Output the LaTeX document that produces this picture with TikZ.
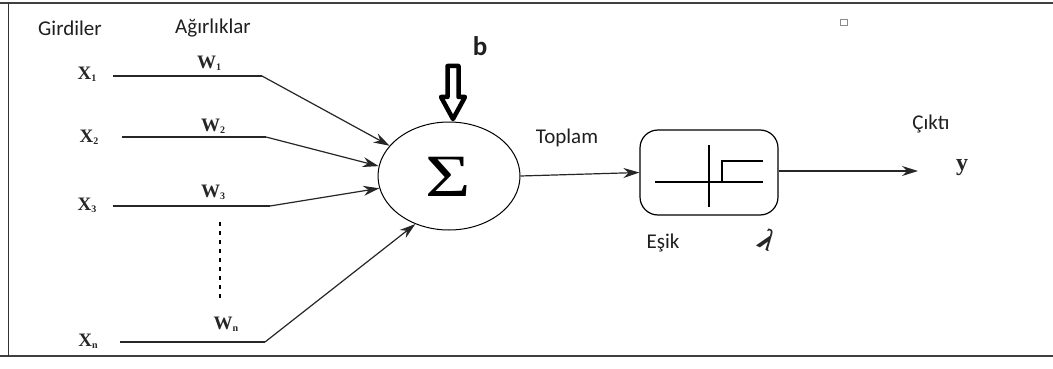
\documentclass[tikz,border=0pt]{standalone}
\usepackage{fontspec}
\setmainfont{Liberation Serif}
\newfontfamily\calibrifont{Carlito}
\usetikzlibrary{arrows.meta,shapes.geometric}
\newcommand{\sbs}[1]{\raisebox{-0.25ex}{\fontsize{10}{10}\selectfont #1}}
\begin{document}
\begin{tikzpicture}[x=1pt,y=-1pt,
  lbl/.style={font=\calibrifont\fontsize{21}{21}\selectfont, text=black!88},
  xin/.style={font=\bfseries\fontsize{19}{19}\selectfont, inner sep=1pt, text=black!85},
  wire/.style={line width=1.2pt, black!85},
  arr/.style={wire, -{Stealth[length=16pt,width=10pt]}}
]
\useasboundingbox (0,0) rectangle (1053,369);
\fill[white] (0,0) rectangle (1053,369);
% frame
\draw[line width=2pt, black!75] (0,3.5) -- (1053,3.5);
\draw[line width=2pt, black!75] (0,355.5) -- (1053,355.5);
\draw[line width=1.2pt, black!80] (8.5,3.5) -- (8.5,355.5);
% headings
\node[lbl] (gird) at (70,28) {Girdiler};
\node[lbl] (agir) at (213,28) {Ağırlıklar};
% inputs
\node[xin] (x1) at (87,74) {X\sbs{1}};
\node[xin] (x2) at (89,137) {X\sbs{2}};
\node[xin] (x3) at (87,205) {X\sbs{3}};
\node[xin] (xn) at (88,341) {X\sbs{n}};
\node[xin] (w1) at (209,63) {W\sbs{1}};
\node[xin] (w2) at (213,126) {W\sbs{2}};
\node[xin] (w3) at (213,192) {W\sbs{3}};
\node[xin] (wn) at (226,324) {W\sbs{n}};
% summation
\node[draw, ellipse, line width=1pt, minimum width=142pt, minimum height=108pt, inner sep=0pt] (sum) at (449,176) {};
\node[font=\fontsize{60}{60}\selectfont, inner sep=0pt] (sig) at (448,177) {\scalebox{1.3}[1]{Σ}};
% bends
\coordinate (b1) at (262,76);
\coordinate (b2) at (266,137);
\coordinate (b3) at (270,206);
\coordinate (bn) at (265,342);
\coordinate (s1) at (113,76);
\coordinate (s2) at (122,137);
\coordinate (s3) at (113,206);
\coordinate (sn) at (120,342);
\draw[wire] (s1) -- (b1);
\draw[arr] (b1) -- (sum.153);
\draw[wire] (s2) -- (b2);
\draw[arr] (b2) -- (sum.172);
\draw[wire] (s3) -- (b3);
\draw[arr] (b3) -- (sum.190);
\draw[wire] (sn) -- (bn);
\draw[arr] (bn) -- (sum.235);
% dots
\coordinate (d1) at (220,222);
\coordinate (d2) at (220,300);
\draw[line width=1.4pt, dash pattern=on 4pt off 5pt] (d1) -- (d2);
% bias
\node[font=\calibrifont\bfseries\fontsize{27}{27}\selectfont, text=black!88] (b) at (480,46) {b};
\draw[line width=4.5pt, fill=white, line join=round]
  (447.5,66) -- (458.5,66) -- (458.5,97) -- (465,97) -- (453,119) -- (441,97) -- (447.5,97) -- cycle;
% threshold box
\node[draw, rounded corners=18pt, line width=1.2pt, minimum width=138pt, minimum height=85pt] (thr) at (709,172.5) {};
\draw[line width=1.2pt] (709,145) -- (709,207);
\draw[line width=2.4pt] (655,182) -- (722,182) -- (722,161) -- (763,161);
\draw[line width=1.2pt] (722,182) -- (763,182);
\node[lbl] (top) at (567,138) {Toplam};
\draw[arr] (sum.east) -- (thr.west);
\node[lbl] (esik) at (663,243) {Eşik};
\node[font=\bfseries\itshape\fontsize{30}{30}\selectfont, rotate=-25, text=black!85] (lam) at (768,240) {λ};
% output
\node[font=\bfseries\fontsize{24}{24}\selectfont, inner sep=1pt, text=black!85] (y) at (962,168) {y};
\coordinate (oe) at (918,171);
\draw[arr] (thr.east |- oe) -- (oe);
\node[lbl] (cik) at (931,124) {Çıktı};
% tiny square
\draw[black!45, line width=0.6pt] (840,19) rectangle (847,25);
\end{tikzpicture}
\end{document}
